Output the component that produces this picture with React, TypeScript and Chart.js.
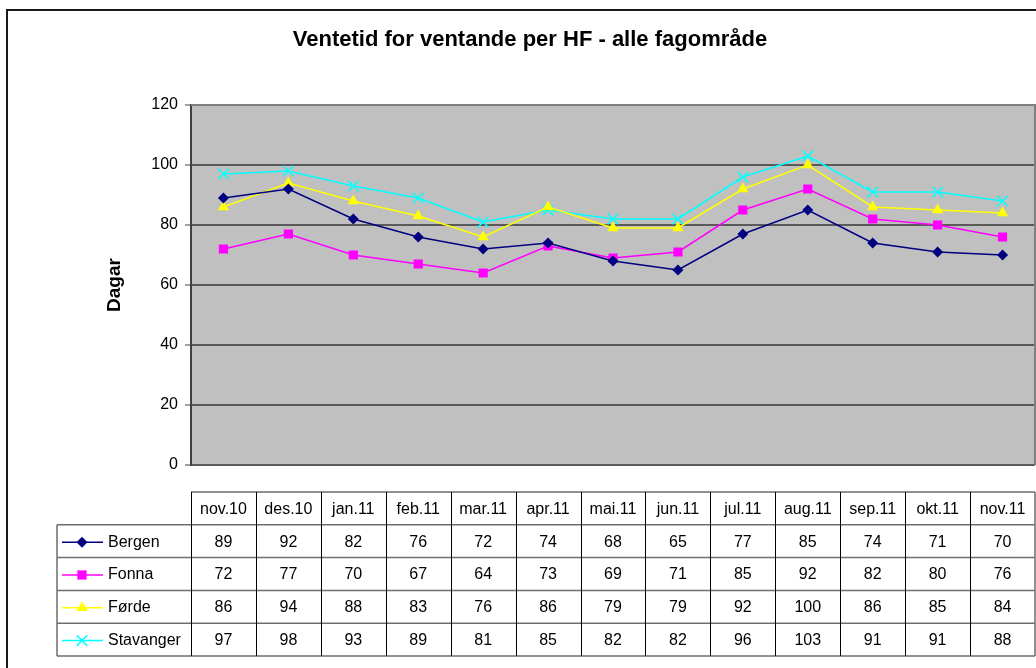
import React, { useEffect, useRef } from 'react';
import { Chart, registerables } from 'chart.js';

Chart.register(...registerables);

// ---------- data ----------
const titleText = 'Ventetid for ventande per HF - alle fagområde';
const yAxisTitle = 'Dagar';
const categories = ['nov.10', 'des.10', 'jan.11', 'feb.11', 'mar.11', 'apr.11', 'mai.11', 'jun.11', 'jul.11', 'aug.11', 'sep.11', 'okt.11', 'nov.11'];
const seriesNames = ['Bergen', 'Fonna', 'Førde', 'Stavanger'];
const bergen = [89, 92, 82, 76, 72, 74, 68, 65, 77, 85, 74, 71, 70];
const fonna = [72, 77, 70, 67, 64, 73, 69, 71, 85, 92, 82, 80, 76];
const forde = [86, 94, 88, 83, 76, 86, 79, 79, 92, 100, 86, 85, 84];
const stavanger = [97, 98, 93, 89, 81, 85, 82, 82, 96, 103, 91, 91, 88];
const yMin = 0;
const yMax = 120;
const yStep = 20;

// ---------- styles ----------
const FONT = '"Liberation Sans", Arial, sans-serif';
const colors = ['#000080', '#FF00FF', '#FFFF00', '#00FFFF'];
const markers = ['rectRot', 'rect', 'triangle', 'crossRot'];
const radii = [5.5, 6.5, 6.5, 7.5];
const seriesValues = [bergen, fonna, forde, stavanger];

function drawMarker(ctx: CanvasRenderingContext2D, style: string, x: number, y: number, r: number, color: string) {
  ctx.save();
  ctx.fillStyle = color;
  ctx.strokeStyle = color;
  ctx.lineWidth = 1.5;
  ctx.beginPath();
  if (style === 'rectRot') {
    ctx.moveTo(x, y - r);
    ctx.lineTo(x + r, y);
    ctx.lineTo(x, y + r);
    ctx.lineTo(x - r, y);
    ctx.closePath();
    ctx.fill();
  } else if (style === 'rect') {
    const s = r * Math.SQRT1_2;
    ctx.rect(x - s, y - s, 2 * s, 2 * s);
    ctx.fill();
  } else if (style === 'triangle') {
    for (let k = 0; k < 3; k++) {
      const a = (k * 2 * Math.PI) / 3;
      const px = x + Math.sin(a) * r;
      const py = y - Math.cos(a) * r;
      if (k === 0) ctx.moveTo(px, py);
      else ctx.lineTo(px, py);
    }
    ctx.closePath();
    ctx.fill();
  } else {
    const o = r * Math.SQRT1_2;
    ctx.moveTo(x - o, y - o);
    ctx.lineTo(x + o, y + o);
    ctx.moveTo(x + o, y - o);
    ctx.lineTo(x - o, y + o);
    ctx.stroke();
  }
  ctx.restore();
}

const decorPlugin = {
  id: 'decor',
  beforeDraw(chart: any) {
    const { ctx, chartArea } = chart;
    ctx.save();
    ctx.fillStyle = '#FFFFFF';
    ctx.fillRect(0, 0, chart.width, chart.height);
    // outer frame
    ctx.strokeStyle = '#1a1a1a';
    ctx.lineWidth = 2;
    ctx.strokeRect(7, 10, 1100, 700);
    // plot background
    ctx.fillStyle = '#C0C0C0';
    ctx.fillRect(chartArea.left, chartArea.top, chartArea.right - chartArea.left, chartArea.bottom - chartArea.top);
    ctx.restore();
  },
  afterDatasetsDraw(chart: any) {
    const { ctx, chartArea } = chart;
    ctx.save();
    // plot border (right / top)
    ctx.strokeStyle = '#808080';
    ctx.lineWidth = 2;
    ctx.beginPath();
    ctx.moveTo(chartArea.left, chartArea.top);
    ctx.lineTo(chartArea.right, chartArea.top);
    ctx.lineTo(chartArea.right, chartArea.bottom);
    ctx.stroke();
    ctx.restore();
  },
  afterDraw(chart: any) {
    const { ctx, chartArea } = chart;
    const xs = chart.scales.x;
    ctx.save();

    // title
    ctx.fillStyle = '#000';
    ctx.font = `bold 22px ${FONT}`;
    ctx.textAlign = 'center';
    ctx.textBaseline = 'middle';
    ctx.fillText(titleText, 530, 40);

    // y axis title
    ctx.save();
    ctx.translate(115, (chartArea.top + chartArea.bottom) / 2);
    ctx.rotate(-Math.PI / 2);
    ctx.font = `bold 19px ${FONT}`;
    ctx.fillText(yAxisTitle, 0, 0);
    ctx.restore();

    // data table
    const n = categories.length;
    const colW = (chartArea.right - chartArea.left) / n;
    const left = chartArea.left;
    const right = chartArea.right;
    const labelLeft = 57;
    const top = 492;
    const rowH = 32.8;
    const rowsY = [top];
    for (let k = 1; k <= seriesNames.length + 1; k++) rowsY.push(top + k * rowH);
    const bottom = rowsY[rowsY.length - 1];

    // horizontal lines
    ctx.strokeStyle = '#6e6e6e';
    ctx.lineWidth = 1.5;
    ctx.beginPath();
    ctx.moveTo(left, top);
    ctx.lineTo(right, top);
    for (let k = 1; k < rowsY.length; k++) {
      ctx.moveTo(labelLeft, rowsY[k]);
      ctx.lineTo(right, rowsY[k]);
    }
    ctx.moveTo(labelLeft, rowsY[1]);
    ctx.lineTo(labelLeft, bottom);
    ctx.moveTo(right, top);
    ctx.lineTo(right, bottom);
    ctx.stroke();

    // vertical lines
    ctx.strokeStyle = '#000';
    ctx.lineWidth = 1;
    ctx.beginPath();
    for (let i = 0; i < n; i++) {
      const cx = xs.getPixelForValue(i);
      const x0 = Math.round(cx - colW / 2) + 0.5;
      ctx.moveTo(x0, top);
      ctx.lineTo(x0, bottom);
    }
    ctx.stroke();

    // header text
    ctx.fillStyle = '#000';
    ctx.font = `16px ${FONT}`;
    ctx.textAlign = 'center';
    ctx.textBaseline = 'middle';
    for (let i = 0; i < n; i++) {
      ctx.fillText(categories[i], xs.getPixelForValue(i), (rowsY[0] + rowsY[1]) / 2 + 1);
    }

    // rows
    for (let s = 0; s < seriesNames.length; s++) {
      const cy = (rowsY[s + 1] + rowsY[s + 2]) / 2 + 1;
      // legend key
      ctx.strokeStyle = colors[s];
      ctx.lineWidth = 1.5;
      ctx.beginPath();
      ctx.moveTo(62, cy);
      ctx.lineTo(103, cy);
      ctx.stroke();
      drawMarker(ctx, markers[s], 82, cy, radii[s], colors[s]);
      ctx.fillStyle = '#000';
      ctx.textAlign = 'left';
      ctx.fillText(seriesNames[s], 108, cy);
      ctx.textAlign = 'center';
      const vals = seriesValues[s];
      for (let i = 0; i < n; i++) {
        ctx.fillText(String(Math.round(vals[i])), xs.getPixelForValue(i), cy);
      }
    }
    ctx.restore();
  },
};

export default function App() {
  const ref = useRef<HTMLCanvasElement | null>(null);

  useEffect(() => {
    if (!ref.current) return;
    const chart = new Chart(ref.current, {
      type: 'line',
      data: {
        labels: categories,
        datasets: seriesNames.map((name, s) => ({
          label: name,
          data: seriesValues[s],
          borderColor: colors[s],
          backgroundColor: colors[s],
          pointBackgroundColor: colors[s],
          pointBorderColor: colors[s],
          pointStyle: markers[s] as any,
          pointRadius: radii[s],
          pointBorderWidth: s === 3 ? 1.5 : 0,
          borderWidth: 1.5,
          tension: 0,
          fill: false,
        })),
      },
      options: {
        responsive: false,
        animation: false,
        devicePixelRatio: 1,
        layout: { autoPadding: false, padding: { top: 105, bottom: 668 - 465, left: 0, right: 1 } },
        plugins: {
          legend: { display: false },
          title: { display: false },
          tooltip: { enabled: false },
        },
        scales: {
          x: {
            type: 'category',
            display: false,
            offset: true,
          },
          y: {
            min: yMin,
            max: yMax,
            afterFit: (scale: any) => {
              scale.width = 191;
            },
            ticks: {
              stepSize: yStep,
              color: '#000',
              font: { family: FONT, size: 16 },
              padding: 7,
            },
            grid: {
              color: '#5a5a5a',
              lineWidth: 2,
              tickLength: 6,
              tickColor: '#404040',
              tickWidth: 1,
            },
            border: { display: true, color: '#404040', width: 2 },
          },
        },
      },
      plugins: [decorPlugin],
    });
    return () => chart.destroy();
  }, []);

  return (
    <div style={{ position: 'fixed', left: 0, top: 0, width: 1036, height: 668, background: '#fff' }}>
      <canvas ref={ref} width={1036} height={668} style={{ display: 'block' }} />
    </div>
  );
}
